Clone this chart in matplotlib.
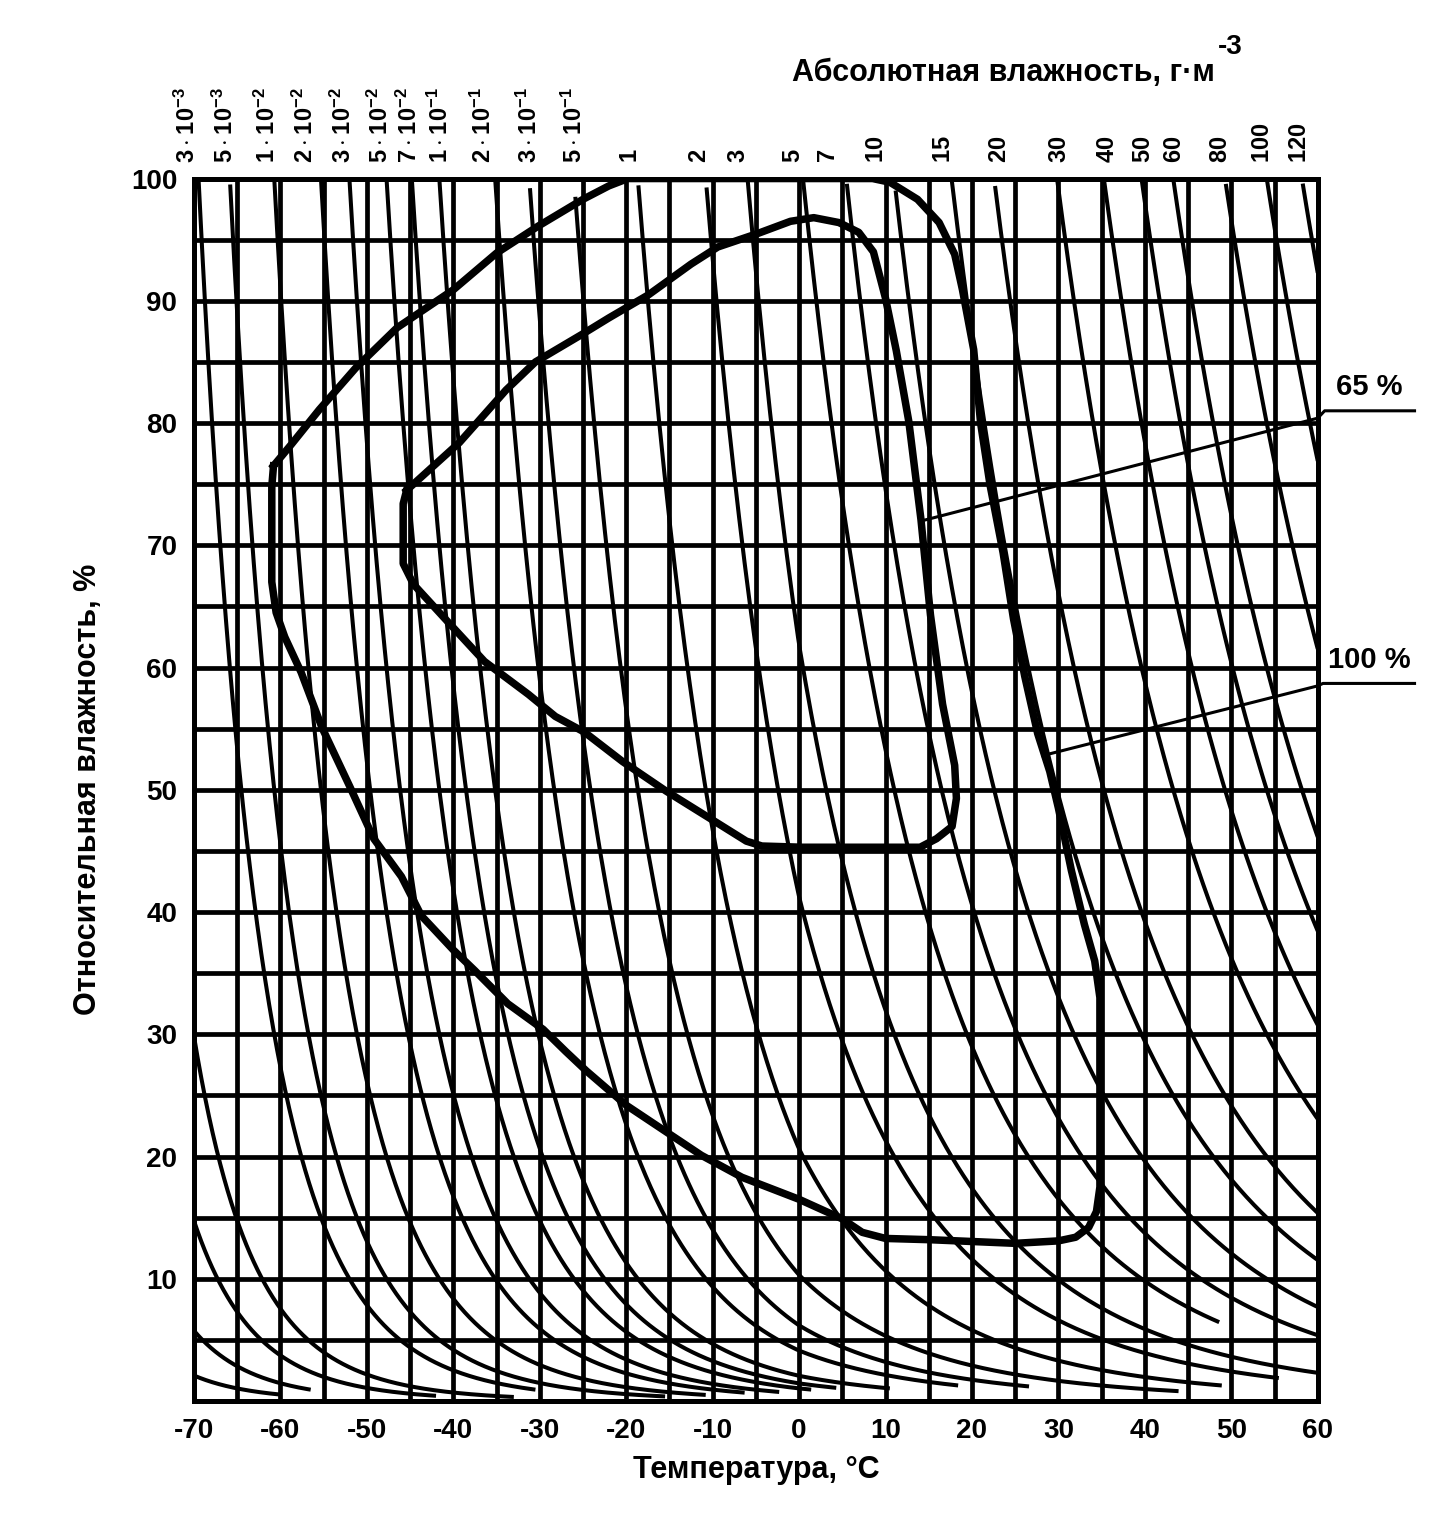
import numpy as np
import matplotlib.pyplot as plt

plt.rcParams['font.family'] = ['Liberation Sans', 'DejaVu Sans']
plt.rcParams['mathtext.fontset'] = 'custom'
plt.rcParams['mathtext.rm'] = 'Liberation Sans'
plt.rcParams['mathtext.bf'] = 'Liberation Sans:bold'
plt.rcParams['axes.unicode_minus'] = False

# absolute humidity isolines, g/m3 (first four are unlabeled, they start on the left edge)
ah_vals = [5.8e-5, 1.6e-4, 4.1e-4, 8.3e-4,
           3e-3, 5e-3, 1e-2, 2e-2, 3e-2, 5e-2, 7e-2, 0.1, 0.2, 0.3, 0.5,
           1, 2, 3, 5, 7, 10, 15, 20, 30, 40, 50, 60, 80, 100, 120]
# temperature where each isoline stops near the bottom
ah_end = [-60, -56.5, -42, -33,
          -30.5, -15.5, -10.8, -6.3, -2.3, 1.4, 4.3, 10.5, 18.4, 26.6, 43.9,
          48.9, 55.5, 60, 48.6, 60, 60, 60, 60, 60, 60, 60, 60, 60, 60, 60]

# top labels and where they sit (deg C)
top_labels = [r'3\cdot10^{-3}', r'5\cdot10^{-3}', r'1\cdot10^{-2}', r'2\cdot10^{-2}',
              r'3\cdot10^{-2}', r'5\cdot10^{-2}', r'7\cdot10^{-2}', r'1\cdot10^{-1}',
              r'2\cdot10^{-1}', r'3\cdot10^{-1}', r'5\cdot10^{-1}',
              '1', '2', '3', '5', '7', '10', '15', '20', '30', '40', '50', '60', '80', '100', '120']
top_label_t = [-70.8, -66.4, -61.5, -57.1, -52.7, -48.5, -45.1, -41.5, -36.5, -31.2, -26.0,
               -19.5, -11.5, -6.9, -0.6, 3.5, 9.0, 16.8, 23.2, 30.2, 35.7, 39.9, 43.5, 48.8, 53.7, 57.9]

# outer climate envelope (T, RH)
outer_t = [-60.8, -58.8, -55.5, -51.3, -46.5, -40, -35, -30.2, -25, -22, -19.8,
           8.5, 10.5, 13.7, 16.2, 18, 18.9, 20.2, 21, 22.1, 23.6, 24.8, 26.1, 27.6, 29, 30, 31.5, 33, 34.2, 34.8,
           34.8, 34.4, 33.5, 32, 30, 25, 15, 10, 7.3, 5, 0, -6.6, -11.3, -20, -24.6, -27, -29.6,
           -33.7, -37.5, -40, -43.7, -46, -49.2, -52, -55.2, -57.6, -59.5, -60.5, -61, -61, -60.8]
outer_rh = [76.5, 78.2, 81.1, 84.5, 87.8, 90.9, 93.9, 96.1, 98.3, 99.4, 100,
            100, 99.7, 98.3, 96.4, 93.8, 90.9, 86, 80, 74.9, 69.4, 64, 59.3, 54.6, 51.5, 48.5, 43.4, 39, 36, 33,
            17.5, 15.5, 14.2, 13.4, 13.1, 12.9, 13.2, 13.3, 13.8, 14.9, 16.5, 18.3, 20.1, 24.2, 27, 28.6, 30.4,
            32.5, 35.2, 36.9, 39.7, 42.9, 46, 50.3, 55.1, 59.6, 62.5, 64.5, 67, 74.8, 76.5]

# inner climate envelope (T, RH)
inner_t = [-45.4, -39.3, -33.9, -30.5, -25, -22, -17.4, -12.5, -9.4, -4.8, -1, 1.7, 4.6, 6.9, 8.6,
           10, 11.25, 12.7, 14.1, 15.2, 16.6, 18, 18.2, 17.7, 15.9, 14, 0.4, -4.3, -6.1,
           -10.4, -15.4, -20.4, -24.8, -28.2, -31.3, -36.4, -41.1, -44.6, -45.8, -45.8, -45.4]
inner_rh = [74.5, 78.4, 82.7, 85, 87.3, 88.6, 90.5, 93, 94.4, 95.5, 96.5, 96.8, 96.4, 95.6, 94,
            90.2, 85.9, 80.1, 72.1, 64.3, 57, 52, 49.3, 47, 46, 45.3, 45.3, 45.4, 45.8,
            47.7, 49.9, 52.3, 54.7, 56, 57.8, 60.5, 64.1, 66.8, 68.5, 73.4, 74.5]

# leader lines for the two envelope labels
lead65_t = [14.2, 60, 60.8, 71.2]
lead65_rh = [72.0, 80.4, 81.0, 81.0]
lead100_t = [28.2, 60, 60.6, 71.2]
lead100_rh = [52.8, 58.5, 58.7, 58.7]


def sat_ah(t):
    # saturation vapour density, g/m3 (over ice below 0 C)
    e = np.where(t < 0, 611.2 * np.exp(22.46 * t / (272.62 + t)),
                 611.2 * np.exp(17.62 * t / (243.12 + t)))
    return 2.1668 * e / (t + 273.15)


fig = plt.figure(figsize=(14.37, 15.13), dpi=100)
ax = fig.add_axes([0.135, 0.074, 0.782, 0.808])
ax.set_xlim(-70, 60)
ax.set_ylim(0, 100)

# grid every 5
for xv in np.arange(-65, 60, 5):
    ax.axvline(xv, color='black', lw=3.4, zorder=1)
for yv in np.arange(5, 100, 5):
    ax.axhline(yv, color='black', lw=3.4, zorder=1)

for a, tend in zip(ah_vals, ah_end):
    t = np.linspace(-70, tend, 600)
    rh = 100 * a / sat_ah(t)
    m = rh <= 100.3
    ax.plot(t[m], rh[m], color='black', lw=2.9, zorder=2, solid_capstyle='butt')

ax.plot(outer_t, outer_rh, color='black', lw=5.4, zorder=3, solid_joinstyle='round')
ax.plot(inner_t, inner_rh, color='black', lw=5.4, zorder=3, solid_joinstyle='round')

ax.plot(lead65_t, lead65_rh, color='black', lw=2.2, clip_on=False, zorder=3)
ax.plot(lead100_t, lead100_rh, color='black', lw=2.2, clip_on=False, zorder=3)
ax.text(66, 81.8, '65 %', fontsize=21, fontweight='bold', ha='center', va='bottom')
ax.text(66, 59.5, '100 %', fontsize=21, fontweight='bold', ha='center', va='bottom')

for lab, tx in zip(top_labels, top_label_t):
    ax.text(tx, 101.3, r'$\mathbf{' + lab + '}$', rotation=90, ha='center', va='bottom',
            fontsize=17, clip_on=False)

for s in ax.spines.values():
    s.set_linewidth(3.6)

ax.set_xticks(np.arange(-70, 61, 10))
ax.set_yticks(np.arange(10, 101, 10))
ax.tick_params(length=0, labelsize=20, pad=12)
for lbl in ax.get_xticklabels() + ax.get_yticklabels():
    lbl.set_fontweight('bold')

ax.set_xlabel('Температура, °С', fontsize=22, fontweight='bold', labelpad=8)
ax.set_ylabel('Относительная влажность, %', fontsize=22, fontweight='bold', labelpad=20)
fig.text(0.8455, 0.952, 'Абсолютная влажность, г·м', fontsize=22,
         fontweight='bold', ha='right', va='center')
fig.text(0.8475, 0.969, '-3', fontsize=20, fontweight='bold', ha='left', va='center')

fig.savefig('out.png', dpi=100)
